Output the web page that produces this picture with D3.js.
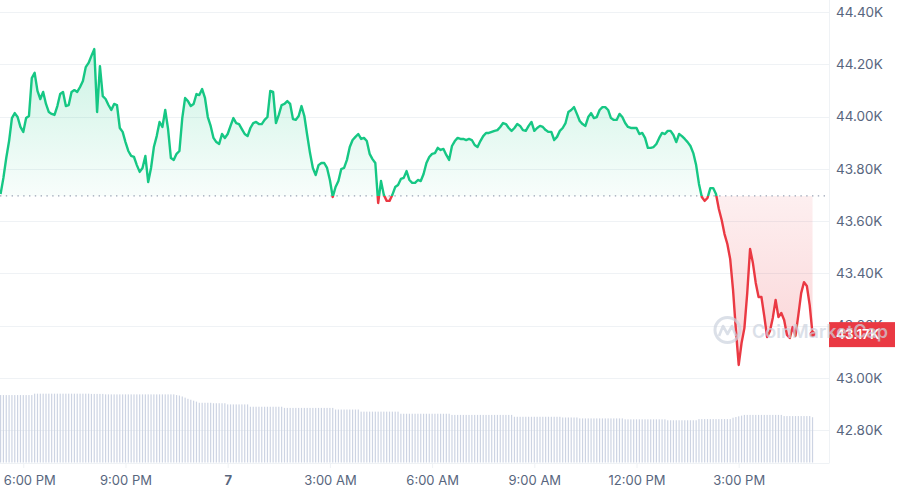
<!DOCTYPE html>
<html>
<head>
<meta charset="utf-8">
<script src="https://cdn.jsdelivr.net/npm/d3@7"></script>
<style>
  body { margin: 0; background: #fff; }
  svg { display: block; font-family: Inter, "Open Sans", sans-serif; }
</style>
</head>
<body>
<div id="chart"></div>
<script>
// BTC price, 5 minute steps from 5:20 PM
const prices = [
  43703,43765,43841,43906,43994,44013,43998,43960,43941,43994,
  44002,44147,44167,44098,44067,44094,44048,44017,44010,44006,
  44040,44086,44094,44040,44044,44094,44101,44094,44113,44136,
  44189,44205,44232,44258,44017,44193,44078,44067,44044,44025,
  44048,44044,43956,43941,43902,43868,43849,43845,43814,43788,
  43803,43849,43749,43803,43883,43925,43979,43960,44025,43952,
  43841,43834,43857,43868,43994,44071,44059,44040,44048,44086,
  44082,44105,44071,43998,43964,43918,43902,43895,43933,43918,
  43933,43964,43994,43975,43971,43952,43933,43925,43956,43975,
  43979,43971,43971,43987,43998,44098,44094,43975,44006,44044,
  44048,44059,44048,43990,43987,44002,44040,44002,43929,43860,
  43803,43776,43814,43822,43822,43803,43757,43692,43730,43753,
  43799,43803,43834,43883,43910,43922,43933,43914,43918,43906,
  43857,43837,43822,43669,43753,43700,43677,43677,43700,43730,
  43738,43761,43765,43791,43757,43746,43746,43757,43753,43780,
  43822,43845,43857,43860,43880,43872,43876,43853,43834,43887,
  43906,43918,43914,43914,43910,43914,43910,43891,43883,43906,
  43925,43937,43937,43941,43945,43948,43960,43975,43971,43956,
  43945,43956,43971,43964,43948,43945,43964,43979,43945,43956,
  43964,43960,43948,43941,43941,43910,43922,43945,43956,43975,
  44017,44025,44036,44010,43983,43971,43964,43998,44013,43994,
  43998,44025,44036,44036,44025,43994,43987,43987,44010,43998,
  43975,43960,43956,43956,43956,43933,43937,43918,43880,43880,
  43883,43895,43918,43937,43933,43945,43945,43929,43902,43933,
  43925,43914,43902,43887,43860,43814,43742,43692,43677,43688,
  43726,43726,43703,43646,43604,43550,43512,43454,43336,43183,
  43049,43133,43190,43324,43493,43439,43363,43309,43309,43236,
  43156,43179,43229,43298,43232,43248,43221,43164,43152,43194,
  43160,43240,43324,43366,43351,43278,43167
];

// 24h volume (billions), same steps
const volumes = [
  28.9,28.9,28.9,28.9,28.9,28.9,28.9,28.9,28.9,28.9,
  28.9,28.9,29.5,29.5,29.5,29.5,29.5,29.5,29.5,29.5,
  29.5,29.5,29.5,29.5,29.5,29.5,29.5,29.5,29.5,29.5,
  29.5,29.5,29.4,29.4,29.4,29.4,29.4,29.2,29.2,29.2,
  29.2,29.2,29.2,29.2,29.2,29.2,29.2,29.2,29.2,29.2,
  29.2,29.2,29.2,29.2,29.2,29.2,29.2,29.2,29.2,29.2,
  29.2,29.2,28.9,28.7,28.3,27.8,27.3,26.9,26.5,26.1,
  25.6,25.6,25.6,25.6,25.6,25.4,25.4,25.4,25.4,25.4,
  24.9,24.9,24.9,24.9,24.9,24.9,24.9,24.9,23.9,23.9,
  23.9,23.9,23.9,23.9,23.9,23.9,23.9,23.9,23.9,23.9,
  23.4,23.4,23.4,23.4,23.4,23.4,23.4,23.4,23.4,23.4,
  23.4,23.4,23.4,23.4,23.4,23.4,23.4,23.4,22.7,22.7,
  22.7,22.7,22.7,22.7,22.7,22.7,22.7,21.8,21.8,21.8,
  21.8,21.8,21.8,21.8,21.8,21.8,21.8,21.8,21.8,21.8,
  21.8,20.9,20.9,20.9,20.9,20.9,20.9,20.9,20.9,20.9,
  20.9,20.9,20.9,20.9,20.9,20.9,20.9,20.9,20.9,20.4,
  20.4,20.4,20.4,20.4,20.4,20.4,20.4,20.4,20.4,20.4,
  20.4,20.4,20.4,20.4,20.4,20.4,20.4,20.4,20.4,20.4,
  20.4,19.6,19.6,19.6,19.6,19.6,19.6,19.6,19.6,19.6,
  19.6,19.6,19.6,19.6,19.6,19.6,19.6,19.6,19.3,19.3,
  19.3,19.3,19.3,19.3,18.9,18.9,18.9,18.9,18.9,18.9,
  18.9,18.9,18.9,18.9,18.9,18.9,18.9,18.9,18.9,18.9,
  18.5,18.5,18.5,18.5,18.5,18.5,18.5,18.5,18.5,18.5,
  18.5,18.5,18.5,18.5,18.5,18.1,18.1,18.1,18.1,18.1,
  18.1,18.1,18.1,18.1,18.1,18.1,18.6,18.6,18.6,18.6,
  18.6,18.6,18.6,18.6,18.6,18.6,18.6,18.6,19.2,19.5,
  19.8,20.1,20.4,20.4,20.4,20.4,20.4,20.4,20.4,20.4,
  20.4,20.4,20.4,20.4,20.4,20.4,19.9,19.9,19.9,19.9,
  19.9,19.9,19.9,19.9,19.9,19.9,19.4
];

const startTime = new Date(2023, 11, 6, 17, 20);
const stepMinutes = 5;
const openPrice = 43696;

const priceTicks = [42800, 43000, 43200, 43400, 43600, 43800, 44000, 44200, 44400];
const timeTicks = [
  new Date(2023, 11, 6, 18), new Date(2023, 11, 6, 21), new Date(2023, 11, 7, 0),
  new Date(2023, 11, 7, 3), new Date(2023, 11, 7, 6), new Date(2023, 11, 7, 9),
  new Date(2023, 11, 7, 12), new Date(2023, 11, 7, 15)
];
const timeTickLabels = ["6:00 PM", "9:00 PM", "7", "3:00 AM", "6:00 AM", "9:00 AM", "12:00 PM", "3:00 PM"];

const width = 898, height = 495;
const plotRight = 829;
const green = '#16c784', red = '#ea3943';

const data = prices.map((p, i) => ({
  t: new Date(+startTime + i * stepMinutes * 60000),
  p: p,
  v: volumes[i]
}));

const svg = d3.select('#chart')
  .append('svg')
  .attr('width', width)
  .attr('height', height);

const x = d3.scaleTime()
  .domain([new Date(2023, 11, 6, 17, 19), new Date(2023, 11, 7, 17, 39)])
  .range([0, plotRight]);

const y = d3.scaleLinear()
  .domain([42800, 44400])
  .range([430, 12]);

const yVol = d3.scaleLinear()
  .domain([0, 30])
  .range([462.5, 392.5]);

const yBase = y(openPrice);

// gradients + clips
const defs = svg.append('defs');
const gUp = defs.append('linearGradient')
  .attr('id', 'gUp').attr('gradientUnits', 'userSpaceOnUse')
  .attr('x1', 0).attr('x2', 0).attr('y1', y(d3.max(prices))).attr('y2', yBase);
gUp.append('stop').attr('offset', 0).attr('stop-color', green).attr('stop-opacity', 0.22);
gUp.append('stop').attr('offset', 1).attr('stop-color', green).attr('stop-opacity', 0.03);

const gDown = defs.append('linearGradient')
  .attr('id', 'gDown').attr('gradientUnits', 'userSpaceOnUse')
  .attr('x1', 0).attr('x2', 0).attr('y1', yBase).attr('y2', y(d3.min(prices)));
gDown.append('stop').attr('offset', 0).attr('stop-color', red).attr('stop-opacity', 0.08);
gDown.append('stop').attr('offset', 1).attr('stop-color', red).attr('stop-opacity', 0.22);

defs.append('clipPath').attr('id', 'above')
  .append('rect').attr('x', 0).attr('y', 0).attr('width', plotRight).attr('height', yBase);
defs.append('clipPath').attr('id', 'below')
  .append('rect').attr('x', 0).attr('y', yBase).attr('width', plotRight).attr('height', height - yBase);

// grid
svg.append('g')
  .selectAll('line')
  .data(priceTicks)
  .enter().append('line')
  .attr('x1', 0).attr('x2', plotRight)
  .attr('y1', d => Math.round(y(d)) + 0.5).attr('y2', d => Math.round(y(d)) + 0.5)
  .attr('stroke', '#eff2f5');

svg.append('line')
  .attr('x1', 0).attr('x2', plotRight)
  .attr('y1', 463.5).attr('y2', 463.5)
  .attr('stroke', '#eff2f5');

svg.append('line')
  .attr('x1', plotRight + 0.5).attr('x2', plotRight + 0.5)
  .attr('y1', 0).attr('y2', 463.5)
  .attr('stroke', '#eff2f5');

// volume bars
svg.append('g')
  .selectAll('rect')
  .data(data)
  .enter().append('rect')
  .attr('x', d => x(d.t) - 0.6)
  .attr('y', d => yVol(d.v))
  .attr('width', 1.2)
  .attr('height', d => yVol(0) - yVol(d.v))
  .attr('fill', '#cdd4e3');

// areas
const area = d3.area()
  .x(d => x(d.t))
  .y0(yBase)
  .y1(d => y(d.p));

svg.append('path').datum(data)
  .attr('d', area)
  .attr('fill', 'url(#gUp)')
  .attr('clip-path', 'url(#above)');

svg.append('path').datum(data)
  .attr('d', area)
  .attr('fill', 'url(#gDown)')
  .attr('clip-path', 'url(#below)');

// opening price dotted line
svg.append('line')
  .attr('x1', 0).attr('x2', plotRight)
  .attr('y1', yBase).attr('y2', yBase)
  .attr('stroke', '#9aa3b5')
  .attr('stroke-width', 1.2)
  .attr('stroke-dasharray', '1.4,4.4');

// price line
const line = d3.line()
  .x(d => x(d.t))
  .y(d => y(d.p));

svg.append('path').datum(data)
  .attr('d', line)
  .attr('fill', 'none')
  .attr('stroke', green)
  .attr('stroke-width', 2.4)
  .attr('stroke-linejoin', 'round')
  .attr('clip-path', 'url(#above)');

svg.append('path').datum(data)
  .attr('d', line)
  .attr('fill', 'none')
  .attr('stroke', red)
  .attr('stroke-width', 2.4)
  .attr('stroke-linejoin', 'round')
  .attr('clip-path', 'url(#below)');

const last = data[data.length - 1];
svg.append('circle')
  .attr('cx', x(last.t)).attr('cy', y(last.p))
  .attr('r', 3)
  .attr('fill', last.p < openPrice ? red : green);

// x axis
const xAxis = svg.append('g')
  .attr('transform', 'translate(0,463)')
  .call(d3.axisBottom(x)
    .tickValues(timeTicks)
    .tickFormat((d, i) => timeTickLabels[i])
    .tickSize(5)
    .tickPadding(8));
xAxis.select('.domain').remove();
xAxis.selectAll('line').attr('stroke', '#eff2f5');
xAxis.selectAll('text')
  .attr('fill', '#58667e')
  .attr('dx', (d, i) => i === 0 ? 6 : 0)
  .style('font-size', '13px')
  .style('font-family', 'Inter, sans-serif')
  .style('font-weight', (d, i) => timeTickLabels[i] === '7' ? 700 : 400);

// y axis
const yAxis = svg.append('g')
  .attr('transform', 'translate(836,0)')
  .call(d3.axisRight(y)
    .tickValues(priceTicks)
    .tickFormat(d => (d / 1000).toFixed(2) + 'K')
    .tickSize(0)
    .tickPadding(0));
yAxis.select('.domain').remove();
yAxis.selectAll('text')
  .attr('fill', '#58667e')
  .style('font-size', '13.5px')
  .style('font-family', 'Inter, sans-serif');

// current price tag
const tagY = y(last.p);
svg.append('rect')
  .attr('x', plotRight).attr('y', tagY - 12)
  .attr('width', 66).attr('height', 25)
  .attr('fill', red);
svg.append('text')
  .attr('x', 836).attr('y', tagY + 0.5)
  .attr('dy', '0.35em')
  .attr('fill', '#fff')
  .style('font-size', '13.5px')
  .style('font-weight', 600)
  .text((last.p / 1000).toFixed(2) + 'K');

// watermark
const wm = svg.append('g').attr('opacity', 0.7);
wm.append('circle')
  .attr('cx', 727.5).attr('cy', 330).attr('r', 12.5)
  .attr('fill', 'none').attr('stroke', '#cdd3df').attr('stroke-width', 3);
wm.append('path')
  .attr('d', 'M719,336 L723,326 L727.5,334 L732,326 L736,336')
  .attr('fill', 'none').attr('stroke', '#cdd3df').attr('stroke-width', 2.6)
  .attr('stroke-linejoin', 'round');
wm.append('text')
  .attr('x', 752).attr('y', 338)
  .attr('fill', '#cdd3df')
  .style('font-size', '18px')
  .style('font-weight', 600)
  .text('CoinMarketCap');
</script>
</body>
</html>
